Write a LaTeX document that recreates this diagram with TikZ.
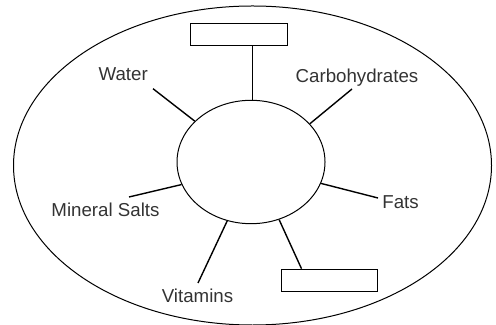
\documentclass[tikz,border=0pt]{standalone}
\usepackage{fontspec}
\setmainfont{Liberation Sans}
\usetikzlibrary{shapes.geometric}

\tikzset{
	rotulo/.style={anchor=base, inner sep=0pt, text=black!80, font=\fontsize{9.35}{11}\selectfont},
	caixa/.style={draw, line width=0.5pt, minimum width=48.3pt, minimum height=11pt, inner sep=0pt},
	ligacao/.style={line width=0.7pt}
}

\begin{document}
\begin{tikzpicture}[x=0.5pt, y=-0.5pt]
	\useasboundingbox (0,0) rectangle (496,325);

% elipse externa
	\draw[line width=0.5pt] (252.5,165.5) ellipse (239 and 159.5);

% elipse central
	\node[draw, ellipse, line width=0.5pt, minimum width=74pt, minimum height=61.7pt, inner sep=0pt] (centro) at (251,162) {};

% caixas vazias
	\node[caixa] (caixaTopo) at (239,34.5) {};
	\node[caixa] (caixaBaixo) at (329.3,280.2) {};

% rotulos
	\node[rotulo] (agua) at (123.2,80.7) {Water};
	\node[rotulo] (carbo) at (357,82.7) {Carbohydrates};
	\node[rotulo] (sais) at (105.5,216) {Mineral Salts};
	\node[rotulo] (gord) at (400.5,209) {Fats};
	\node[rotulo] (vitam) at (197.5,302.7) {Vitamins};

% pontas livres das ligacoes
	\coordinate (pAgua) at (153,88.7);
	\coordinate (pCarbo) at (352,89);
	\coordinate (pSais) at (129,197);
	\coordinate (pGord) at (378,198);
	\coordinate (pVitam) at (198,283);
	\coordinate (pTopo) at ([xshift=31.2pt]caixaTopo.south west);

% ligacoes
	\draw[ligacao] (pTopo) -- (pTopo |- centro.north);
	\draw[ligacao] (centro.144.5) -- (pAgua);
	\draw[ligacao] (centro.33.5) -- (pCarbo);
	\draw[ligacao] (centro.198) -- (pSais);
	\draw[ligacao] (centro.-17) -- (pGord);
	\draw[ligacao] (centro.248) -- (pVitam);
	\draw[ligacao] (centro.-64) -- ([xshift=10.5pt]caixaBaixo.north west);

\end{tikzpicture}
\end{document}
